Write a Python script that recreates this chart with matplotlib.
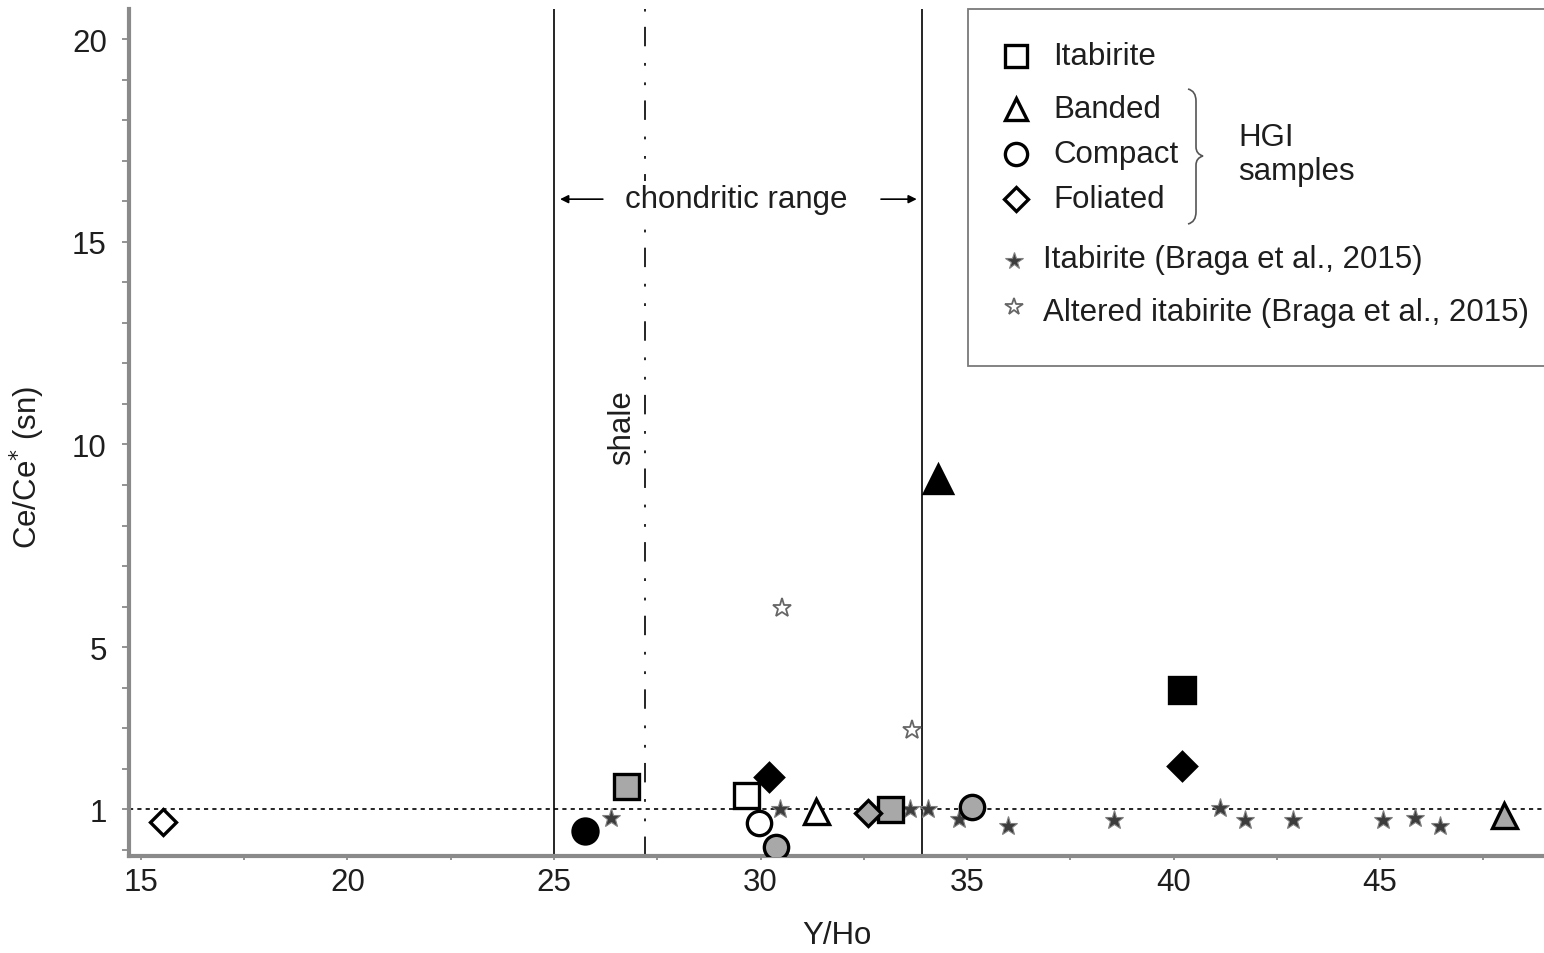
import matplotlib.pyplot as plt
from matplotlib.path import Path
from matplotlib.patches import PathPatch, Rectangle

plt.rcParams['font.family'] = ['Liberation Sans', 'DejaVu Sans']
plt.rcParams['lines.scale_dashes'] = False

# HGI samples (Y/Ho, Ce/Ce*) split by type and fill
itab_open_x, itab_open_y = [29.66], [1.35]
itab_gray_x, itab_gray_y = [26.74, 33.13], [1.57, 1.02]
itab_black_x, itab_black_y = [40.2], [3.95]

band_open_x, band_open_y = [31.34], [0.97]
band_gray_x, band_gray_y = [48.0], [0.85]
band_black_x, band_black_y = [34.29], [9.16]

comp_open_x, comp_open_y = [29.96], [0.67]
comp_gray_x, comp_gray_y = [30.37, 35.11], [0.07, 1.06]
comp_black_x, comp_black_y = [25.75], [0.46]

fol_open_x, fol_open_y = [15.54], [0.70]
fol_gray_x, fol_gray_y = [32.61], [0.92]
fol_black_x, fol_black_y = [30.21, 40.2], [1.80, 2.07]

# Braga et al. (2015)
braga_x = [26.37, 30.47, 33.63, 34.06, 34.81, 36.0, 38.55, 41.12, 41.73, 42.9, 45.07, 45.84, 46.45]
braga_y = [0.79, 1.0, 1.0, 1.0, 0.77, 0.59, 0.75, 1.03, 0.75, 0.75, 0.75, 0.78, 0.6]
alt_x = [30.51, 33.66]
alt_y = [5.97, 2.96]

chond_lo, chond_hi, shale_yho = 25.0, 33.9, 27.2

GRAY = '#a8a8a8'
TXT = '#1e1e1e'
FS = 22.5

fig = plt.figure(figsize=(15.44, 9.54), dpi=100)
ax = fig.add_axes([129/1544, 1 - 857/954, (1544 - 129)/1544, (857 - 10)/954])

ax.set_xlim(14.71, 48.97)
ax.set_ylim(-0.15, 20.74)

for s in ['top', 'right']:
    ax.spines[s].set_visible(False)
for s in ['left', 'bottom']:
    ax.spines[s].set_color('#8a8a8a')
    ax.spines[s].set_linewidth(3)

ax.set_xticks([15, 20, 25, 30, 35, 40, 45])
ax.set_xticks([17.5, 22.5, 27.5, 32.5, 37.5, 42.5, 47.5], minor=True)
ax.set_yticks([1, 5, 10, 15, 20])
ax.set_yticks(range(0, 21), minor=True)
ax.tick_params(axis='both', which='both', direction='out', color='#8a8a8a',
               labelsize=FS, labelcolor=TXT)
ax.tick_params(axis='y', which='both', length=5, width=1.3, pad=11)
ax.tick_params(axis='x', which='both', length=3, width=1.3, pad=5)

ax.set_xlabel('Y/Ho', fontsize=FS, color=TXT)
ax.xaxis.set_label_coords(0.5, -0.075)
ax.set_ylabel('Ce/Ce$^{*}$ (sn)', fontsize=FS, color=TXT)
ax.yaxis.set_label_coords(-0.058, 0.46)

# reference lines
ax.axvline(chond_lo, color='k', lw=1.2, zorder=1)
ax.axvline(chond_hi, color='k', lw=1.2, zorder=1)
ax.axvline(shale_yho, color='k', lw=1.2, ls=(0, (14, 11, 2, 12, 2, 12)), zorder=1)
ax.axhline(1, color='k', lw=1.2, ls=(0, (3, 3)), zorder=1)

ax.text(29.42, 16.05, 'chondritic range', fontsize=FS,
        ha='center', va='center', color=TXT,
        bbox=dict(facecolor='white', edgecolor='none', pad=2), zorder=2)
ax.annotate('', xy=(chond_lo + 0.08, 16.05), xytext=(26.25, 16.05),
            arrowprops=dict(arrowstyle='-|>', color='k', lw=1.2, mutation_scale=12))
ax.annotate('', xy=(chond_hi - 0.05, 16.05), xytext=(32.85, 16.05),
            arrowprops=dict(arrowstyle='-|>', color='k', lw=1.2, mutation_scale=12))
ax.text(26.65, 10.45, 'shale', rotation=90, fontsize=FS, ha='center', va='center',
        color=TXT)

# Braga et al. stars
ax.plot(braga_x, braga_y, ls='none', marker='*', ms=14, mfc='#3c3c3c',
        mec='#808080', mew=0.8, zorder=3)
ax.plot(alt_x, alt_y, ls='none', marker='*', ms=14, mfc='white',
        mec='#666666', mew=1.3, zorder=3)

groups = [
    (itab_gray_x, itab_gray_y, 's', GRAY, 18),
    (itab_open_x, itab_open_y, 's', 'white', 18),
    (itab_black_x, itab_black_y, 's', 'black', 19),
    (band_open_x, band_open_y, '^', 'white', 18),
    (band_gray_x, band_gray_y, '^', GRAY, 18),
    (band_black_x, band_black_y, '^', 'black', 20),
    (comp_open_x, comp_open_y, 'o', 'white', 17.5),
    (comp_gray_x, comp_gray_y, 'o', GRAY, 17.5),
    (comp_black_x, comp_black_y, 'o', 'black', 18),
    (fol_open_x, fol_open_y, 'D', 'white', 13.5),
    (fol_gray_x, fol_gray_y, 'D', GRAY, 13),
    (fol_black_x, fol_black_y, 'D', 'black', 14),
]
for gx, gy, m, fc, ms in groups:
    ax.plot(gx, gy, ls='none', marker=m, ms=ms, mfc=fc, mec='black', mew=2.4, zorder=4)

# legend drawn in pixel coordinates on an overlay
leg = fig.add_axes([0, 0, 1, 1])
leg.set_xlim(0, 1544)
leg.set_ylim(954, 0)
leg.axis('off')
leg.patch.set_visible(False)

leg.add_patch(Rectangle((968, 10), 600, 357, facecolor='white', edgecolor='#7a7a7a',
                        lw=1.3, clip_on=False))

hgi_items = [('s', 'Itabirite', 57, 16), ('^', 'Banded', 110, 16),
             ('o', 'Compact', 155, 16), ('D', 'Foliated', 200, 12)]
for m, lab, yy, ms in hgi_items:
    leg.plot([1016], [yy], ls='none', marker=m, ms=ms, mfc='white', mec='black', mew=2.4)
    leg.text(1053, yy, lab, fontsize=FS, va='center', ha='left', color=TXT)

brace = Path([(1188, 90), (1196, 92), (1196, 102), (1196, 148), (1196, 155), (1203, 157),
              (1196, 159), (1196, 166), (1196, 213), (1196, 223), (1188, 225)],
             [Path.MOVETO, Path.CURVE3, Path.CURVE3, Path.LINETO, Path.CURVE3, Path.CURVE3,
              Path.CURVE3, Path.CURVE3, Path.LINETO, Path.CURVE3, Path.CURVE3])
leg.add_patch(PathPatch(brace, facecolor='none', edgecolor='#555555', lw=1.2))
leg.text(1238, 155, 'HGI\nsamples', fontsize=FS, va='center', ha='left',
         color=TXT, linespacing=1.15)

leg.plot([1014], [262], ls='none', marker='*', ms=13, mfc='#3c3c3c', mec='#808080', mew=0.8)
leg.text(1043, 260, 'Itabirite (Braga et al., 2015)', fontsize=FS, va='center',
         ha='left', color=TXT)
leg.plot([1014], [308], ls='none', marker='*', ms=13, mfc='white', mec='#666666', mew=1.3)
leg.text(1043, 313, 'Altered itabirite (Braga et al., 2015)', fontsize=FS, va='center',
         ha='left', color=TXT)

fig.savefig('out.png', dpi=100)
